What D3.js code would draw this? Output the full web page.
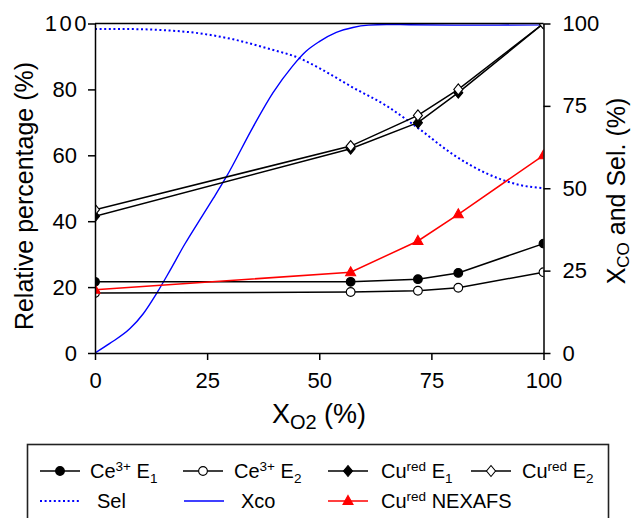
<!DOCTYPE html>
<html><head><meta charset="utf-8">
<script src="https://cdn.jsdelivr.net/npm/d3@7"></script>
<style>
html,body{margin:0;padding:0;background:#fff;}
svg text{font-family:Arial,"Liberation Sans",Helvetica,sans-serif;fill:#000;}
</style></head>
<body><svg id="c" width="635" height="518"></svg>
<script>
// ---------- data ----------
const xPoints = [0, 57, 72, 81, 100];
const ce3E1 = [21.6, 21.6, 22.4, 24.3, 33.2];
const ce3E2 = [18.2, 18.5, 18.9, 19.8, 24.5];
const curedE1 = [41.5, 62.0, 69.9, 79.0, 100];
const curedE2 = [43.5, 62.8, 72.1, 80.0, 100];
const curedNEXAFS = [19.2, 24.5, 34.0, 42.1, 60.0];

const xcoX = [0, 3.3, 7.8, 10.8, 13.7, 16.7, 20, 23.4, 26.4, 29.3, 35.2, 39.7, 44, 47, 50, 53.8, 57.5, 61, 65, 70, 80, 90, 100];
const xcoY = [0, 2.9, 7.4, 12, 18, 25, 33, 40.5, 47, 53.5, 68.5, 79, 87, 91.5, 94.5, 97.3, 98.8, 99.5, 99.7, 99.6, 99.5, 99.5, 99.6];

const selX = [0, 7.8, 15, 23.4, 30.8, 38.3, 45.7, 50.1, 57.6, 65, 70, 72.5, 80, 87.3, 94.7, 100];
const selY = [98.3, 98.3, 98.0, 97.0, 95.2, 92.5, 89.4, 86.4, 80.5, 75.0, 70.3, 67.8, 60.1, 54.5, 51.0, 50.0];

const xTicks = [0, 25, 50, 75, 100];
const yLeftTicks = [0, 20, 40, 60, 80, 100];
const yRightTicks = [0, 25, 50, 75, 100];

// ---------- layout ----------
const svg = d3.select("#c");
const x = d3.scaleLinear().domain([0, 100]).range([95, 543.5]);
const yL = d3.scaleLinear().domain([0, 100]).range([353, 23.5]);
const yR = d3.scaleLinear().domain([0, 100]).range([353, 23.5]);

svg.append("defs").append("clipPath").attr("id", "clip")
  .append("rect").attr("x", 95).attr("y", 23.5).attr("width", 448.5).attr("height", 329.5);

const plot = svg.append("g").attr("clip-path", "url(#clip)");

// blue curves
const xcoData = xcoX.map((v, i) => [v, xcoY[i]]);
const selData = selX.map((v, i) => [v, selY[i]]);
const curve = d3.line().x(d => x(d[0])).y(d => yR(d[1])).curve(d3.curveMonotoneX);
plot.append("path").datum(selData).attr("d", curve).attr("fill", "none")
  .attr("stroke", "#0000ff").attr("stroke-width", 2).attr("stroke-dasharray", "2,2.6");
plot.append("path").datum(xcoData).attr("d", curve).attr("fill", "none")
  .attr("stroke", "#0000ff").attr("stroke-width", 1.4);

const lin = d3.line().x(d => x(d[0])).y(d => yL(d[1]));
function series(vals, color, marker, fill) {
  const data = xPoints.map((v, i) => [v, vals[i]]);
  plot.append("path").datum(data).attr("d", lin).attr("fill", "none")
    .attr("stroke", color).attr("stroke-width", 1.5);
  plot.selectAll(null).data(data).enter().append("path")
    .attr("transform", d => `translate(${x(d[0])},${yL(d[1])})`)
    .attr("d", marker).attr("fill", fill).attr("stroke", color).attr("stroke-width", 1.1);
}
const circ = d3.symbol().type(d3.symbolCircle).size(60)();
const diam = "M0,-5.5L4.5,0L0,5.5L-4.5,0Z";
const tri = "M0,-5.5L5,3.5L-5,3.5Z";

series(ce3E1, "#000", circ, "#000");
series(ce3E2, "#000", circ, "#fff");
series(curedE1, "#000", diam, "#000");
series(curedE2, "#000", diam, "#fff");
series(curedNEXAFS, "#ff0000", tri, "#ff0000");

// frame
svg.append("line").attr("x1", 95).attr("x2", 543.5).attr("y1", 23.5).attr("y2", 23.5)
  .attr("stroke", "#000").attr("stroke-width", 1.5);

// axes
const fsTick = "22px";
const axL = svg.append("g").attr("transform", "translate(95,0)")
  .call(d3.axisLeft(yL).tickValues(yLeftTicks).tickSize(7).tickPadding(11).tickSizeOuter(0));
const axR = svg.append("g").attr("transform", "translate(543.5,0)")
  .call(d3.axisRight(yR).tickValues(yRightTicks).tickSize(7).tickPadding(12).tickSizeOuter(0));
const axB = svg.append("g").attr("transform", "translate(0,353)")
  .call(d3.axisBottom(x).tickValues(xTicks).tickSize(7).tickPadding(12).tickSizeOuter(0));
[axL, axR, axB].forEach(a => {
  a.selectAll("path,line").attr("stroke", "#000").attr("stroke-width", 1.5);
  a.selectAll("text").style("font-size", fsTick).style("font-family", "Arial, 'Liberation Sans', sans-serif").attr("fill", "#000");
});
axL.selectAll(".tick").filter(d => d === 100).select("text")
  .attr("x", -6).style("letter-spacing", "2.5px");

// axis titles
svg.append("text").attr("transform", "translate(33,196) rotate(-90)")
  .attr("text-anchor", "middle").style("font-size", "25px").text("Relative percentage (%)");

const rt = svg.append("g").attr("transform", "translate(625,191) rotate(-90)");
const rtt = rt.append("text").attr("text-anchor", "middle").style("font-size", "25px");
rtt.append("tspan").text("X");
rtt.append("tspan").text("CO").attr("dy", 4).style("font-size", "17px");
rtt.append("tspan").text(" and Sel. (%)").attr("dy", -4);

const xt = svg.append("text").attr("x", 319).attr("y", 423).attr("text-anchor", "middle").style("font-size", "27px");
xt.append("tspan").text("X");
xt.append("tspan").text("O2").attr("dy", 6).style("font-size", "20px");
xt.append("tspan").text(" (%)").attr("dy", -6);

// ---------- legend ----------
const lg = svg.append("g");
lg.append("rect").attr("x", 27.5).attr("y", 444.5).attr("width", 581).attr("height", 120)
  .attr("fill", "none").attr("stroke", "#222").attr("stroke-width", 1.6);

const legendItems = [
  {row: 0, cx: 60, tx: 90, color: "#000", marker: circ, fill: "#000", label: ["Ce", "3+", " E", "1"]},
  {row: 0, cx: 203, tx: 234, color: "#000", marker: circ, fill: "#fff", label: ["Ce", "3+", " E", "2"]},
  {row: 0, cx: 348, tx: 381, color: "#000", marker: diam, fill: "#000", label: ["Cu", "red", " E", "1"]},
  {row: 0, cx: 491, tx: 522, color: "#000", marker: diam, fill: "#fff", label: ["Cu", "red", " E", "2"]},
  {row: 1, cx: 60, tx: 97, color: "#0000ff", dotted: true, label: ["Sel"]},
  {row: 1, cx: 204, tx: 241, color: "#0000ff", label: ["Xco"]},
  {row: 1, cx: 348, tx: 381, color: "#ff0000", marker: tri, fill: "#ff0000", label: ["Cu", "red", " NEXAFS"]}
];
const rowY = [471, 501];
const fsL = 20;
legendItems.forEach(it => {
  const cy = rowY[it.row];
  lg.append("line").attr("x1", it.cx - 20).attr("x2", it.cx + 20).attr("y1", cy).attr("y2", cy)
    .attr("stroke", it.color).attr("stroke-width", it.dotted ? 2 : 1.5)
    .attr("stroke-dasharray", it.dotted ? "2,2.6" : null);
  if (it.marker) lg.append("path").attr("transform", `translate(${it.cx},${cy})`)
    .attr("d", it.marker).attr("fill", it.fill).attr("stroke", it.color).attr("stroke-width", 1.1);
  const t = lg.append("text").attr("x", it.tx).attr("y", cy + 7).style("font-size", fsL + "px");
  const L = it.label;
  t.append("tspan").text(L[0]);
  if (L.length > 1) {
    t.append("tspan").text(L[1]).attr("dy", -7).style("font-size", "13.5px");
    t.append("tspan").text(L[2]).attr("dy", 7);
    if (L.length > 3) t.append("tspan").text(L[3]).attr("dy", 5).style("font-size", "13.5px");
  }
});
</script></body></html>
